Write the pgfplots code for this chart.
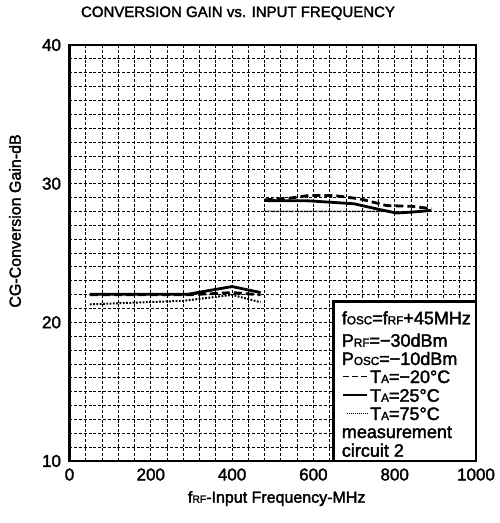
\documentclass[border=0pt]{standalone}
\usepackage{fontspec}
\setmainfont{Liberation Sans}[FakeBold=2]
\usepackage{graphicx}
\usepackage{pgfplots}
\pgfplotsset{compat=1.18}
\newcommand{\sbs}[1]{\scalebox{0.65}{#1}}
\begin{document}
\begin{tikzpicture}
\path[use as bounding box] (-69.5pt,-62pt) rectangle (429.5pt,461pt);
\begin{axis}[
 at={(0pt,0pt)}, anchor=south west,
 scale only axis, width=406.5pt, height=416pt,
 xmin=0, xmax=1000, ymin=10, ymax=40,
 xtick={0,200,...,1000}, ytick={10,20,30,40},
 minor x tick num=4, minor y tick num=9,
 grid=both,
 grid style={black, line width=0.8pt, dash pattern=on 3pt off 1.8pt},
 major tick length=0pt, minor tick length=0pt,
 axis line style={line width=2.6pt},
 tick label style={font=\fontsize{17}{18}\selectfont},
 xticklabel style={yshift=-4pt},
 yticklabel style={xshift=-5pt},
 /pgf/number format/assume math mode=true,
 /pgf/number format/1000 sep={},
 title={CONVERSION GAIN vs. INPUT FREQUENCY},
 title style={at={(axis description cs:0.4145,1)}, anchor=base, yshift=22pt, font=\fontsize{15}{18}\selectfont},
 xlabel={f\sbs{RF}-Input Frequency-MHz},
 xlabel style={at={(axis description cs:0.5097,0)}, anchor=base, yshift=-41.7pt, font=\fontsize{16}{18}\selectfont},
 ylabel={CG-Conversion Gain-dB},
 ylabel style={at={(axis description cs:-0.134,0.577)}, anchor=center, font=\fontsize{16}{18}\selectfont},
]
% T_A = -20 C (dashed)
\addplot[black, line width=2.8pt, dash pattern=on 8pt off 4pt] coordinates {
 (50,22.0) (300,22.0) (360,22.08) (400,22.15) (440,22.05) (470,21.98)};
\addplot[black, line width=2.8pt, dash pattern=on 8pt off 4pt] coordinates {
 (480,28.83) (540,28.95) (590,29.15) (650,29.15) (715,28.9) (780,28.42) (840,28.37) (890,28.2)};
% T_A = 25 C (solid)
\addplot[black, line width=2.8pt] coordinates {
 (50,22.02) (290,22.02) (400,22.58) (470,22.15)};
\addplot[black, line width=2.8pt] coordinates {
 (480,28.78) (590,28.76) (700,28.55) (765,28.12) (805,27.88) (850,27.97) (890,28.07)};
% T_A = 75 C (dotted)
\addplot[black, line width=2pt, dash pattern=on 1.8pt off 1.5pt] coordinates {
 (50,21.3) (280,21.55) (400,21.98) (470,21.45)};
\addplot[black, line width=1.6pt, dash pattern=on 1.8pt off 1.2pt] coordinates {
 (480,28.0) (780,28.0) (810,27.9) (850,27.95) (890,28.05)};
\end{axis}
% legend box
\draw[line width=2.6pt, fill=white] (263.8pt,0pt) rectangle (406.5pt,159.3pt);
\begin{scope}[every node/.style={anchor=base west, inner sep=0pt, font=\fontsize{18}{19}\selectfont}]
\node at (272.2pt,136.7pt) {f\sbs{OSC}=f\sbs{RF}+45MHz};
\node at (272.2pt,114.3pt) {P\sbs{RF}=−30dBm};
\node at (272.2pt,96pt) {P\sbs{OSC}=−10dBm};
\node at (300.5pt,78pt) {T\sbs{A}=−20°C};
\node at (300.5pt,59.3pt) {T\sbs{A}=25°C};
\node at (300.5pt,41pt) {T\sbs{A}=75°C};
\node at (272.2pt,23pt) {measurement};
\node at (272.2pt,4.3pt) {circuit 2};
\end{scope}
\draw[line width=1.5pt, dash pattern=on 5.5pt off 3.5pt] (273.5pt,84.3pt) -- (298.5pt,84.3pt);
\draw[line width=1.5pt] (273.5pt,66pt) -- (297.5pt,66pt);
\draw[line width=1pt, dash pattern=on 1pt off 1pt] (277.5pt,48pt) -- (298.5pt,48pt);
\end{tikzpicture}
\end{document}
